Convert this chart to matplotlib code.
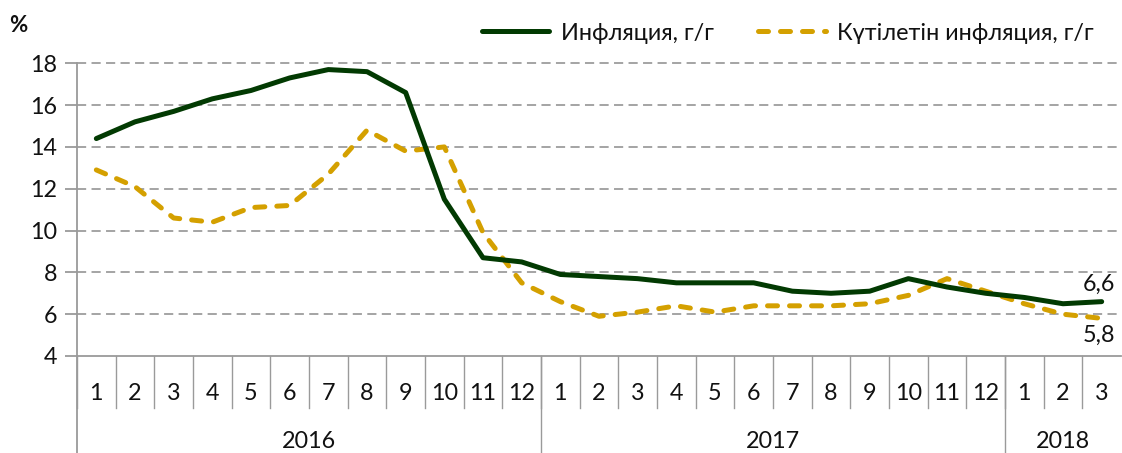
import matplotlib
matplotlib.use("Agg")
import matplotlib.pyplot as plt
import matplotlib.transforms as mtransforms

plt.rcParams['font.family'] = ['Lato', 'DejaVu Sans']

months = ['1','2','3','4','5','6','7','8','9','10','11','12',
          '1','2','3','4','5','6','7','8','9','10','11','12',
          '1','2','3']
years = ['2016', '2017', '2018']
year_counts = [12, 12, 3]

inflation = [14.4, 15.2, 15.7, 16.3, 16.7, 17.3, 17.7, 17.6, 16.6, 11.5, 8.7, 8.5,
             7.9, 7.8, 7.7, 7.5, 7.5, 7.5, 7.1, 7.0, 7.1, 7.7, 7.3, 7.0,
             6.8, 6.5, 6.6]
expected = [12.9, 12.1, 10.6, 10.4, 11.1, 11.2, 12.7, 14.8, 13.8, 14.0, 9.9, 7.5,
            6.6, 5.9, 6.1, 6.4, 6.1, 6.4, 6.4, 6.4, 6.5, 6.9, 7.7, 7.1,
            6.5, 6.0, 5.8]
label_infl = 'Инфляция, г/г'
label_exp = 'Күтілетін инфляция, г/г'
last_labels = ['6,6', '5,8']

W, H = 1122, 453
FS = 16.8
fig = plt.figure(figsize=(W/100, H/100), dpi=100)
left, right, bottom, top = 77, 1121, 356, 63.3
ax = fig.add_axes([left/W, 1-bottom/H, (right-left)/W, (bottom-top)/H])

n = len(months)
x = [i + 0.5 for i in range(n)]
green = '#023A02'
gold = '#D4A000'
grey = '#8C8C8C'
txt = '#111111'

ax.set_xlim(0, n)
ax.set_ylim(4, 18)
ax.set_yticks(range(4, 19, 2))
for yv in range(6, 19, 2):
    ax.axhline(yv, color=grey, lw=1.1, ls=(0, (6, 3.5)), zorder=1, clip_on=False)

l1, = ax.plot(x, inflation, color=green, lw=3.6, solid_capstyle='round', solid_joinstyle='round', zorder=4, label=label_infl)
l2, = ax.plot(x, expected, color=gold, lw=3.6, dashes=(2.0, 2.4), dash_capstyle='round', zorder=3, label=label_exp)

for s in ['top', 'right', 'bottom']:
    ax.spines[s].set_visible(False)
ax.spines['left'].set_color('#9A9A9A')
ax.spines['left'].set_linewidth(1.3)
ax.tick_params(axis='y', length=9, width=1.3, color='#9A9A9A', labelsize=FS, pad=5, labelcolor=txt)
ax.set_xticks([])

trans = mtransforms.blended_transform_factory(ax.transData, ax.transAxes)
axh = bottom - top
def ay(py):
    return (bottom - py) / axh

ax.plot([0, n], [0, 0], transform=trans, color='#9A9A9A', lw=1.3, clip_on=False, zorder=5)
for i in range(n):
    ax.plot([i, i], [0, ay(408)], transform=trans, color='#9A9A9A', lw=1.0, clip_on=False)
    ax.text(i + 0.5, ay(394), months[i], transform=trans, ha='center', va='center', fontsize=FS, color=txt)
start = 0
for yr, cnt in zip(years, year_counts):
    if start > 0:
        ax.plot([start, start], [0, ay(453)], transform=trans, color='#9A9A9A', lw=1.0, clip_on=False)
    ax.text(start + cnt / 2, ay(441), yr, transform=trans, ha='center', va='center', fontsize=FS, color=txt)
    start += cnt
ax.plot([0, 0], [0, ay(453)], transform=trans, color='#9A9A9A', lw=1.3, clip_on=False)

ax.annotate(last_labels[0], (x[-1], inflation[-1]), xytext=(-2, 5), textcoords='offset points',
            ha='center', va='bottom', fontsize=FS, color=txt, annotation_clip=False)
ax.annotate(last_labels[1], (x[-1], expected[-1]), xytext=(-2, -5), textcoords='offset points',
            ha='center', va='top', fontsize=FS, color=txt, annotation_clip=False)

fig.text(9/W, 1-25/H, '%', fontsize=16, fontweight='bold', ha='left', va='center', color=txt)

leg = fig.legend(handles=[l1, l2], loc='center right', bbox_to_anchor=(1094/W, 1-33/H), ncol=2,
                 frameon=False, fontsize=FS, handlelength=2.9, handletextpad=0.5, columnspacing=1.9,
                 borderaxespad=0, borderpad=0)
for t in leg.get_texts():
    t.set_color(txt)

fig.savefig('out.png', dpi=100)
